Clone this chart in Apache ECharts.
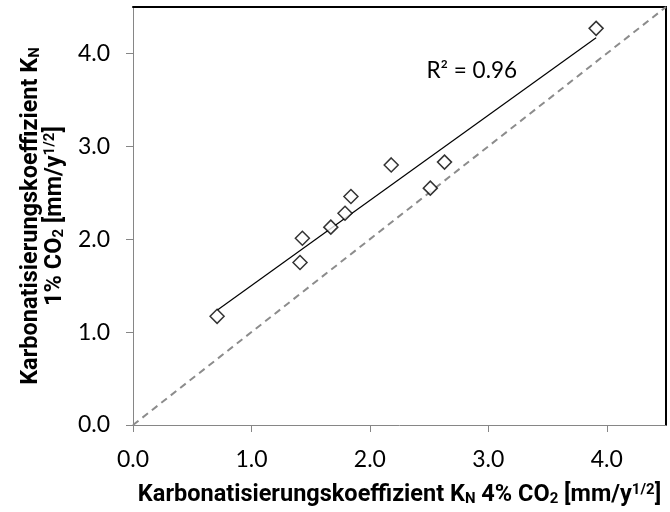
<!DOCTYPE html>
<html>
<head>
<meta charset="utf-8">
<script src="https://cdn.jsdelivr.net/npm/echarts@6/dist/echarts.min.js"></script>
<style>
html, body { margin: 0; padding: 0; background: #fff; }
#chart { width: 670px; height: 512px; }
</style>
</head>
<body>
<div id="chart"></div>
<script>
// Karbonatisierungskoeffizient K_N: 4% CO2 (x) gegen 1% CO2 (y), mm/y^1/2
var kn4 = [0.71, 1.41, 1.43, 1.67, 1.79, 1.84, 2.18, 2.51, 2.63, 3.91];
var kn1 = [1.17, 1.75, 2.01, 2.13, 2.28, 2.46, 2.80, 2.55, 2.83, 4.27];
var tickValues = [0, 1, 2, 3, 4];
var axisMax = 4.5;
var r2Text = 'R² = 0.96';
var r2Pos = [2.86, 3.81];

var font = 'Lato, "Open Sans", sans-serif';
var titleFont = 'Roboto, "Open Sans", sans-serif';
var gray = '#868686';

// lineare Regression (Trendlinie wie in Excel)
function fit(xs, ys) {
    var n = xs.length, mx = 0, my = 0;
    for (var i = 0; i < n; i++) { mx += xs[i]; my += ys[i]; }
    mx /= n; my /= n;
    var sxy = 0, sxx = 0;
    for (var j = 0; j < n; j++) {
        sxy += (xs[j] - mx) * (ys[j] - my);
        sxx += (xs[j] - mx) * (xs[j] - mx);
    }
    var k = sxy / sxx;
    return { k: k, d: my - k * mx };
}
var lin = fit(kn4, kn1);
var xMin = Math.min.apply(null, kn4), xMax = Math.max.apply(null, kn4);
var trend = [[xMin, lin.k * xMin + lin.d], [xMax, lin.k * xMax + lin.d]];

var points = kn4.map(function (x, i) { return [x, kn1[i]]; });

var nameRich = {
    b: { fontFamily: titleFont, fontSize: 23.5, fontWeight: 'bold', color: '#000', lineHeight: 24 },
    sub: { fontFamily: titleFont, fontSize: 15, fontWeight: 'bold', color: '#000', lineHeight: 14, verticalAlign: 'bottom' },
    sup: { fontFamily: titleFont, fontSize: 15, fontWeight: 'bold', color: '#000', lineHeight: 14, verticalAlign: 'top' }
};

function valueAxis(extra) {
    var a = {
        type: 'value',
        min: 0,
        max: axisMax,
        interval: 1,
        splitLine: { show: false },
        axisLine: { show: true, onZero: false, lineStyle: { color: gray, width: 1 } },
        axisTick: { show: true, inside: false, length: 7, customValues: tickValues, lineStyle: { color: gray } },
        axisLabel: {
            customValues: tickValues,
            margin: 23,
            fontFamily: font,
            fontSize: 23,
            color: '#000',
            formatter: function (v) { return v.toFixed(1); }
        }
    };
    for (var key in extra) a[key] = extra[key];
    return a;
}

function frameAxis(pos) {
    return {
        type: 'value', position: pos, min: 0, max: axisMax,
        axisLine: { show: true, onZero: false, lineStyle: { color: '#000', width: 2 } },
        axisTick: { show: false }, axisLabel: { show: false }, splitLine: { show: false }
    };
}

var chart = echarts.init(document.getElementById('chart'));
chart.setOption({
    animation: false,
    grid: { left: 133, top: 7, right: 4, bottom: 85 },
    xAxis: [
        valueAxis({
            position: 'bottom',
            name: '{b|Karbonatisierungskoeffizient K}{sub|N}{b| 4% CO}{sub|2}{b| [mm/y}{sup|1/2}{b|]}',
            nameLocation: 'middle',
            nameGap: 58,
            nameTextStyle: { rich: nameRich }
        }),
        frameAxis('top')
    ],
    yAxis: [
        valueAxis({
            position: 'left',
            name: '{b|Karbonatisierungskoeffizient K}{sub|N}\n{b|1% CO}{sub|2}{b| [mm/y}{sup|1/2}{b|]}',
            nameLocation: 'middle',
            nameRotate: 90,
            nameGap: 63,
            nameTextStyle: { rich: nameRich, align: 'center' }
        }),
        frameAxis('right')
    ],
    series: [
        {
            name: '1:1',
            type: 'line',
            data: [[0, 0], [axisMax, axisMax]],
            symbol: 'none',
            lineStyle: { color: '#8c8c8c', width: 2, type: [7, 5] },
            z: 1
        },
        {
            name: 'Trend',
            type: 'line',
            data: trend,
            symbol: 'none',
            lineStyle: { color: '#000', width: 1.2 },
            z: 2,
            markPoint: {
                symbol: 'circle',
                symbolSize: 0,
                data: [{ coord: r2Pos }],
                label: {
                    show: true,
                    position: 'inside',
                    formatter: r2Text,
                    fontFamily: font,
                    fontSize: 22.5,
                    color: '#000'
                }
            }
        },
        {
            name: 'KN',
            type: 'scatter',
            data: points,
            symbol: 'diamond',
            symbolSize: 14,
            itemStyle: { color: '#fff', borderColor: '#000', borderWidth: 1.5 },
            z: 3
        }
    ]
});
</script>
</body>
</html>
